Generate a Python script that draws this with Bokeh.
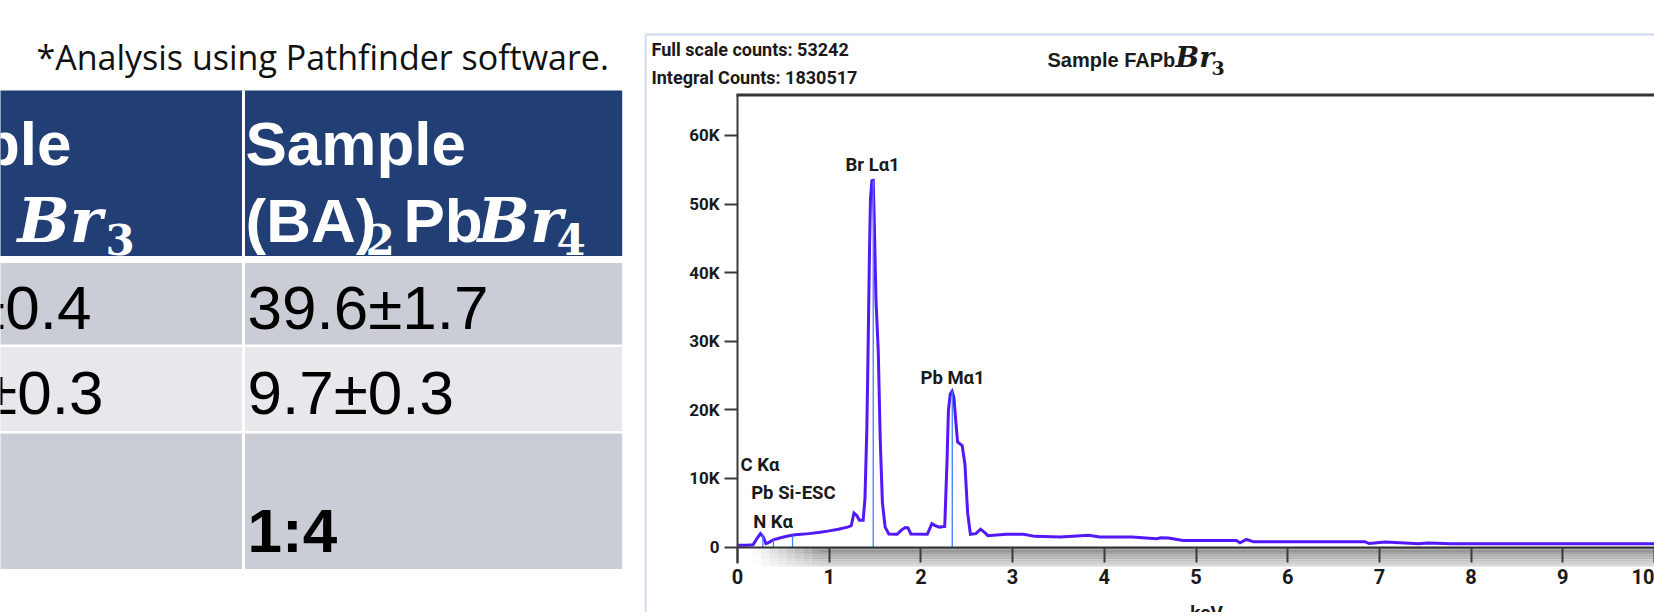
import numpy as np
from bokeh.plotting import figure
from bokeh.layouts import row
from bokeh.models import Range1d, FixedTicker, Label
from bokeh.embed import file_html
from bokeh.resources import INLINE

# ---------------- data ----------------
note_text = "*Analysis using Pathfinder software."
header_col1_line1 = "Sample"
header_col1_formula = ["Br", "3"]
header_col2_line1 = "Sample"
header_col2_formula = ["(BA)", "2", "Pb", "Br", "4"]
col1_values = ["\u00b10.4", "\u00b10.3"]
col2_values = ["39.6\u00b11.7", "9.7\u00b10.3", "1:4"]

energy_kev = [0.00, 0.10, 0.17, 0.21, 0.25, 0.28, 0.31, 0.34, 0.39, 0.47, 0.55, 0.63, 0.78, 0.90,
              1.00, 1.10, 1.20, 1.24, 1.27, 1.30, 1.33, 1.37, 1.39, 1.41, 1.42, 1.44, 1.45, 1.465,
              1.48, 1.49, 1.51, 1.535, 1.555, 1.565, 1.58, 1.61, 1.65, 1.74, 1.79, 1.83, 1.86, 1.89,
              2.07, 2.12, 2.15, 2.20, 2.26, 2.285, 2.30, 2.32, 2.34, 2.36, 2.38, 2.40, 2.45, 2.48,
              2.51, 2.54, 2.60, 2.65, 2.70, 2.73, 2.93, 3.12, 3.24, 3.52, 3.83, 3.95, 4.30, 4.57,
              4.62, 4.70, 4.86, 5.44, 5.48, 5.55, 5.63, 5.96, 6.84, 6.89, 7.06, 7.28, 7.42, 7.53,
              7.78, 8.87, 10.00]
counts = [250, 250, 330, 1200, 1950, 1500, 500, 650, 1050, 1350, 1600, 1800, 1950, 2150,
          2350, 2600, 2900, 3100, 4950, 4600, 3900, 3900, 7000, 17000, 25000, 43700, 50700, 53400,
          53450, 48500, 36000, 28600, 16500, 12300, 6500, 2900, 1900, 1850, 2500, 2850, 2800, 1900,
          1850, 3400, 3150, 2900, 3000, 12600, 19900, 22300, 22700, 21800, 18400, 15300, 14800, 12100,
          4900, 1850, 1950, 2600, 2050, 1650, 1850, 1850, 1550, 1450, 1700, 1450, 1450, 1200,
          1340, 1300, 950, 950, 610, 1100, 750, 780, 780, 500, 730, 580, 490, 580,
          490, 490, 490]

peak_names = ["C K\u03b1", "Pb Si-ESC", "N K\u03b1", "Br L\u03b11", "Pb M\u03b11"]
marker_energy = [0.277, 0.60, 0.392, 1.480, 2.342]
marker_height = [1900, 1700, 1050, 53400, 22700]

full_scale_counts = 53242
integral_counts = 1830517
title_parts = ["Sample FAPb", "Br", "3"]
y_ticks = [0, 10000, 20000, 30000, 40000, 50000, 60000]
y_tick_labels = ["0", "10K", "20K", "30K", "40K", "50K", "60K"]
x_ticks = [0, 1, 2, 3, 4, 5, 6, 7, 8, 9, 10]
x_label = "keV"

# ---------------- layout constants (page pixels) ----------------
H = 612
LEFT_W = 644
RIGHT_W = 1654 - LEFT_W
SANS = "Liberation Sans"
DSERIF = "DejaVu Serif"
CHART_FONT = "Roboto"

# ======== left panel (table) : data coordinates are page pixels ========
lp = figure(width=LEFT_W, height=H, x_range=Range1d(0, LEFT_W), y_range=Range1d(H, 0),
            x_axis_type=None, y_axis_type=None, toolbar_location=None, output_backend="svg",
            min_border=0)
lp.outline_line_color = None
lp.grid.visible = False

HEADER_BLUE = "#213E75"
ROW_DARK = "#CACDD6"
ROW_LIGHT = "#E7E8EC"
tbl_left, tbl_div, tbl_right = -20, 243, 621.7
header_top, header_bot = 90, 255.5
row_tops = [262.5, 346.5, 433]
row_bots = [344, 430.5, 568.5]
row_cols = [ROW_DARK, ROW_LIGHT, ROW_DARK]

lp.quad(left=[tbl_left], right=[tbl_right], top=[header_top], bottom=[header_bot],
        fill_color=HEADER_BLUE, line_color=None)
lp.quad(left=[tbl_left] * 3, right=[tbl_right] * 3, top=row_tops, bottom=row_bots,
        fill_color=row_cols, line_color=None)
lp.segment(x0=[tbl_div], y0=[header_top], x1=[tbl_div], y1=[row_bots[-1]],
           line_color="white", line_width=3)

K_LEFT = 0.35   # baseline correction (fraction of font size)


def tl(x, y, text, size, font=SANS, style="normal", color="white", align="left"):
    lp.add_layout(Label(x=x, y=y - K_LEFT * size, text=text, text_font=font,
                        text_font_style=style, text_font_size="%gpx" % size, text_color=color,
                        text_align=align, text_baseline="alphabetic"))


tl(36, 68.3, note_text, 34, font="Open Sans", color="#111111")

# header, first column (cut at the page edge as in the original)
tl(71, 165, header_col1_line1, 62, style="bold", align="right")
tl(102, 241.7, header_col1_formula[0], 62, font=DSERIF, style="bold italic", align="right")
tl(105, 254, header_col1_formula[1], 42, font=DSERIF, style="bold")
# header, second column
tl(245, 165, header_col2_line1, 62, style="bold")
f_x = [245, 365, 403, 477, 556]
f_y = [241.7, 254, 241.7, 241.7, 254]
f_font = [SANS, DSERIF, SANS, DSERIF, DSERIF]
f_style = ["bold", "bold", "bold", "bold italic", "bold"]
f_size = [62, 42, 62, 62, 42]
for t, xx, yy, ff, fs, sz in zip(header_col2_formula, f_x, f_y, f_font, f_style, f_size):
    tl(xx, yy, t, sz, font=ff, style=fs)

# body values
body_base = [328.3, 413.3, 551.7]
col1_right = [91, 103]
for t, xr, yb in zip(col1_values, col1_right, body_base):
    tl(xr, yb, t, 62, color="black", align="right")
for i, (t, yb) in enumerate(zip(col2_values, body_base)):
    tl(247, yb, t, 62, style="bold" if i == 2 else "normal", color="black")

# ======== right panel (EDS spectrum) ========
X0PX, Y0PX = 737.0, 546.5          # page position of (0 keV, 0 counts)
PXK = 91.7                          # px per keV
PXC = 68.6 / 10000.0                # px per count


def kx(px):
    return (px - X0PX) / PXK


def cy(py):
    return (Y0PX - py) / PXC


p = figure(width=RIGHT_W, height=H, x_range=Range1d(kx(LEFT_W), kx(1654)),
           y_range=Range1d(cy(H), cy(0)), toolbar_location=None, output_backend="svg",
           min_border=0)
p.grid.visible = False
p.outline_line_color = None
p.background_fill_color = "white"

AX_COL = "#3a3a3a"
TXT_COL = "#1a1a1a"

# gray band under the energy axis
bx = list(np.linspace(0.166, 0.9, 9)) + [10.5]
by = list(np.linspace(0, cy(566), 9))
ql, qr, qt, qb, qc = [], [], [], [], []
for i in range(len(bx) - 1):
    fade = min(1.0, (i + 0.5) / 8.0) if i < 8 else 1.0
    for j in range(len(by) - 1):
        tt = (j + 0.5) / 8.0
        g = 135 + (222 - 135) * tt
        g = 255 - (255 - g) * fade
        gi = int(round(g))
        ql.append(bx[i]); qr.append(bx[i + 1]); qt.append(by[j]); qb.append(by[j + 1])
        qc.append("#%02x%02x%02x" % (gi, gi, gi))
p.quad(left=ql, right=qr, top=qt, bottom=qb, fill_color=qc, line_color=None)

# light-blue border of the chart picture
p.segment(x0=[kx(645), kx(645)], y0=[cy(34), cy(34)], x1=[kx(645), kx(1700)], y1=[cy(H + 10), cy(34)],
          line_color="#CBD8EE", line_width=2)
# dark top frame line
p.segment(x0=[kx(736)], y0=[cy(94.5)], x1=[kx(1700)], y1=[cy(94.5)], line_color="#333333",
          line_width=3)

# y axis (drawn at 0 keV)
ya = p.yaxis[0]
ya.fixed_location = 0
ya.bounds = (cy(563), cy(94))
ya.ticker = FixedTicker(ticks=y_ticks)
ya.major_label_overrides = {t: l for t, l in zip(y_ticks, y_tick_labels)}
ya.axis_line_color = AX_COL
ya.axis_line_width = 2
ya.major_tick_line_color = AX_COL
ya.major_tick_line_width = 2
ya.major_tick_out = 13
ya.major_tick_in = 0
ya.minor_tick_line_color = None
ya.major_label_standoff = 5
ya.major_label_text_font = CHART_FONT
ya.major_label_text_font_style = "bold"
ya.major_label_text_font_size = "17px"
ya.major_label_text_color = TXT_COL

# x axis (drawn at 0 counts)
xa = p.xaxis[0]
xa.fixed_location = 0
xa.bounds = (0, 10)
xa.ticker = FixedTicker(ticks=x_ticks)
xa.axis_line_color = "#333333"
xa.axis_line_width = 2
xa.major_tick_line_color = AX_COL
xa.major_tick_line_width = 2
xa.major_tick_in = 0
xa.major_tick_out = 15
xa.minor_tick_line_color = None
xa.major_label_standoff = 7
xa.major_label_text_font = CHART_FONT
xa.major_label_text_font_style = "bold"
xa.major_label_text_font_size = "20px"
xa.major_label_text_color = TXT_COL

# spectrum
p.line(energy_kev, counts, line_color="#5318F8", line_width=3, line_join="miter")
# element marker lines
p.segment(x0=marker_energy, y0=[0] * len(marker_energy), x1=marker_energy, y1=marker_height,
          line_color="#3F80FF", line_width=1.3)

K_RIGHT = 0.42


def lab(px, py, text, size=18, font=CHART_FONT, style="bold", align="left", baseline="alphabetic",
        k=K_RIGHT):
    p.add_layout(Label(x=kx(px), y=cy(py - k * size), text=text, text_font=font,
                       text_font_style=style, text_font_size="%gpx" % size, text_color=TXT_COL,
                       text_align=align, text_baseline=baseline))


lab(651, 57, "Full scale counts: %d" % full_scale_counts, size=18)
lab(651, 85, "Integral Counts: %d" % integral_counts, size=18)
lab(1047, 68.3, title_parts[0], size=20, font=SANS)
lab(1175, 68.3, title_parts[1], size=28, font=DSERIF, style="bold italic")
lab(1211, 75, title_parts[2], size=19, font=DSERIF, style="bold")

peak_px = [(740, 472.3), (750.7, 500), (752.7, 529.3), (845, 172.7), (920, 385)]
for name, (lx, ly) in zip(peak_names, peak_px):
    lab(lx, ly, name, size=18.5)

lab(1206, 600, x_label, size=19, align="center", baseline="top", k=0)

layout = row(lp, p)
open("out.html", "w").write(file_html(layout, INLINE))
